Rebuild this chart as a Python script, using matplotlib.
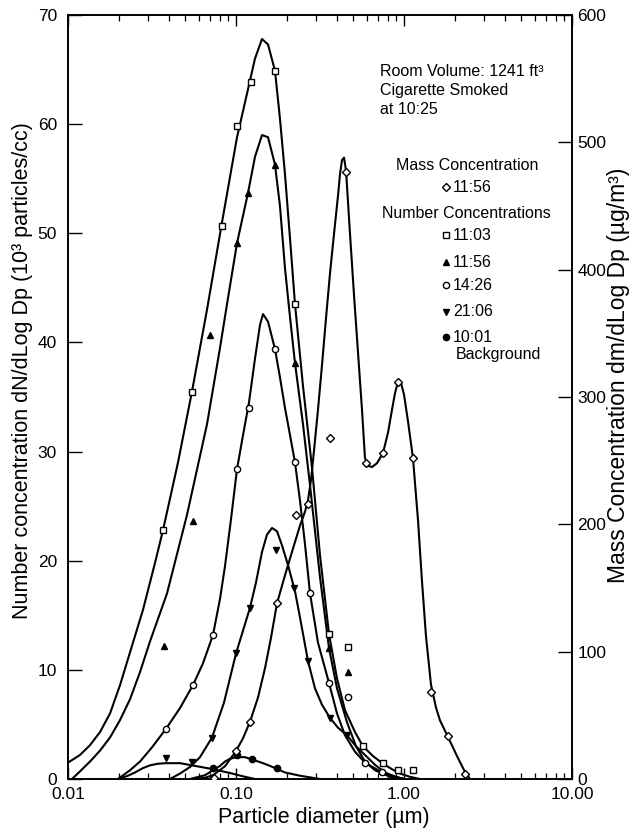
import matplotlib
matplotlib.use("Agg")
import matplotlib.pyplot as plt
from matplotlib.ticker import FixedLocator, LogLocator, NullFormatter

plt.rcParams['font.family'] = ['Liberation Sans', 'DejaVu Sans']

# ---- number concentration curves (diameter in um, 10^3 particles/cc) ----
# 11:03
c1103_x = [0.0100, 0.01179, 0.01352, 0.01551, 0.01778, 0.0204, 0.02339, 0.02795, 0.03295, 0.03677,
           0.04516, 0.0547, 0.0672, 0.08254, 0.1014, 0.1179, 0.1297, 0.1428, 0.1551, 0.1706,
           0.1827, 0.1957, 0.2097, 0.2245, 0.2505, 0.2835, 0.3162, 0.3577, 0.3993, 0.4455,
           0.5109, 0.570, 0.6538, 0.7499, 0.8483, 0.9467, 1.086, 1.245]
c1103_y = [1.5, 2.2, 3.1, 4.3, 6.0, 8.6, 11.6, 15.5, 19.8, 22.8,
           29.0, 35.5, 43.0, 51.0, 58.8, 63.2, 66.0, 67.8, 67.3, 64.9,
           60.5, 55.4, 49.5, 43.5, 36.0, 28.5, 20.5, 13.3, 9.2, 6.3,
           4.3, 3.0, 2.1, 1.4, 0.9, 0.5, 0.2, 0.0]
p1103_x = [0.0368, 0.0547, 0.0825, 0.1014, 0.1228, 0.1706, 0.2245, 0.3577, 0.570, 0.750, 0.921, 1.131]
p1103_y = [22.8, 35.5, 50.7, 59.8, 63.9, 64.9, 43.5, 13.3, 3.0, 1.5, 0.8, 0.8]

# 11:56
c1156_x = [0.01056, 0.01179, 0.01352, 0.01551, 0.01778, 0.0204, 0.02339, 0.02683, 0.03076, 0.03884,
           0.05109, 0.0672, 0.08031, 0.08839, 0.1014, 0.1179, 0.1297, 0.1428, 0.1551, 0.1706,
           0.1827, 0.1957, 0.2097, 0.2245, 0.2505, 0.2758, 0.3162, 0.3577, 0.3993, 0.4579,
           0.5179, 0.5858, 0.672, 0.8254, 1.014]
c1156_y = [0.0, 0.7, 1.6, 2.6, 3.8, 5.4, 7.3, 9.8, 12.6, 17.0,
           24.2, 32.5, 39.5, 43.5, 49.1, 53.7, 57.0, 59.0, 58.8, 56.3,
           52.5, 46.8, 42.3, 38.1, 32.5, 26.9, 18.5, 12.0, 8.3, 5.2,
           3.0, 1.6, 0.8, 0.2, 0.0]
p1156_x = [0.0373, 0.0555, 0.0700, 0.1014, 0.1179, 0.1706, 0.2245, 0.3577]
p1156_y = [12.2, 23.6, 40.7, 49.1, 53.7, 56.3, 38.1, 12.0]

# 14:26
c1426_x = [0.01984, 0.02339, 0.02683, 0.03162, 0.03832, 0.04642, 0.05546, 0.0636, 0.07296, 0.08031,
           0.0860, 0.09338, 0.1014, 0.1101, 0.1195, 0.1297, 0.1389, 0.1448, 0.1551, 0.1706,
           0.1827, 0.1957, 0.2097, 0.2245, 0.2404, 0.2575, 0.2758, 0.3076, 0.3577, 0.3993,
           0.4455, 0.5109, 0.5858, 0.7396, 0.9467]
c1426_y = [0.0, 0.8, 1.6, 2.9, 4.6, 6.5, 8.6, 10.6, 13.2, 16.5,
           19.5, 23.8, 28.4, 31.5, 34.5, 38.5, 41.6, 42.6, 41.9, 39.4,
           36.8, 34.0, 31.5, 29.0, 25.5, 21.5, 17.0, 12.5, 8.8, 6.0,
           4.0, 2.5, 1.5, 0.6, 0.1]
p1426_x = [0.0383, 0.0555, 0.0730, 0.1014, 0.1195, 0.1706, 0.2245, 0.2758, 0.3577, 0.586, 0.740]
p1426_y = [4.6, 8.6, 13.2, 28.4, 34.0, 39.4, 29.0, 17.0, 8.8, 1.5, 0.6]

# 21:06
c2106_x = [0.04047, 0.04642, 0.05324, 0.06105, 0.07197, 0.08483, 0.1000, 0.1101, 0.1212, 0.1315,
           0.1428, 0.1530, 0.1638, 0.1754, 0.1879, 0.2040, 0.2245, 0.2404, 0.2683, 0.2953,
           0.3250, 0.3626, 0.4047, 0.4579, 0.5179, 0.5858, 0.672, 0.7707, 0.8839, 1.014]
c2106_y = [0.0, 0.5, 1.1, 2.0, 3.8, 7.0, 11.5, 13.6, 15.7, 18.0,
           20.8, 22.4, 23.0, 22.7, 21.4, 19.6, 17.2, 14.8, 10.8, 8.3,
           6.8, 5.6, 4.7, 4.0, 3.0, 2.2, 1.3, 0.6, 0.2, 0.0]
p2106_x = [0.0720, 0.1000, 0.1212, 0.1730, 0.2215, 0.2683, 0.3626, 0.4579]
p2106_y = [3.8, 11.5, 15.7, 21.0, 17.5, 10.8, 5.6, 4.0]

# small low bump (21:06 symbols)
cbump_x = [0.01984, 0.02276, 0.02505, 0.02795, 0.03076, 0.03432, 0.03832, 0.04642, 0.0570, 0.07296,
           0.0921, 0.1131, 0.1297]
cbump_y = [0.0, 0.3, 0.6, 1.0, 1.25, 1.4, 1.45, 1.45, 1.2, 0.9,
           0.55, 0.2, 0.0]
pbump_x = [0.0383, 0.0547]
pbump_y = [1.9, 1.6]

# 10:01 background
c1001_x = [0.05324, 0.06538, 0.07296, 0.08031, 0.0860, 0.0921, 0.1000, 0.1131, 0.1297, 0.1448,
           0.1594, 0.1957, 0.2404, 0.3162]
c1001_y = [0.0, 0.35, 0.8, 1.2, 1.6, 1.85, 2.0, 2.0, 1.7, 1.45,
           1.2, 0.6, 0.3, 0.0]
p1001_x = [0.0730, 0.1014, 0.1245, 0.1754]
p1001_y = [1.0, 2.2, 1.8, 1.0]

# ---- mass concentration 11:56 (ug/m3, right axis) ----
mass_x = [0.0570, 0.06538, 0.07296, 0.0860, 0.1000, 0.1101, 0.1212, 0.1352, 0.1488, 0.1616,
          0.1754, 0.1957, 0.2184, 0.2404, 0.2575, 0.2683, 0.2796, 0.2913, 0.3076, 0.3250,
          0.3434, 0.3626, 0.3831, 0.4047, 0.4159, 0.4275, 0.4394, 0.4517, 0.4771, 0.5040,
          0.5324, 0.5623, 0.5858, 0.6105, 0.6449, 0.6907, 0.7499, 0.8031, 0.8483, 0.8839,
          0.9210, 0.9597, 1.000, 1.056, 1.131, 1.212, 1.280, 1.352, 1.448, 1.551,
          1.638, 1.828, 2.068, 2.307, 2.471]
mass_y = [0, 1, 3, 10, 22, 32, 45, 64, 87, 111,
          138, 160, 181, 199, 210, 219, 235, 258, 290, 325,
          362, 397, 428, 458, 475, 486, 488, 478, 428, 380,
          335, 290, 252, 246, 245, 248, 256, 272, 290, 303,
          312, 311, 302, 281, 252, 203, 155, 112, 74, 56,
          46, 33, 18, 5.5, 0]
pmass_x = [0.0742, 0.1000, 0.1212, 0.1754, 0.2276, 0.2683, 0.3626, 0.4517, 0.5939, 0.7499,
           0.9210, 1.131, 1.448, 1.828, 2.307]
pmass_y = [1, 22, 45, 138, 207, 216, 268, 477, 248, 256,
           312, 252, 68, 34, 4]

# stray points near 0.46 um
stray_sq = (0.4642, 12.1)
stray_tri = (0.4642, 9.8)
stray_circ = (0.4642, 7.5)

W, H = 640, 835
fig = plt.figure(figsize=(W / 100, H / 100), dpi=100)
L, R, B, T = 68, 572, 779, 15
ax = fig.add_axes([L / W, 1 - B / H, (R - L) / W, (B - T) / H])
ax.set_xscale('log')
ax.set_xlim(0.01, 10)
ax.set_ylim(0, 70)
ax2 = ax.twinx()
ax2.set_ylim(0, 600)

line_kw = dict(color='black', lw=1.5, solid_joinstyle='round', solid_capstyle='round', zorder=2)
for cx, cy in [(c1103_x, c1103_y), (c1156_x, c1156_y), (c1426_x, c1426_y),
               (c2106_x, c2106_y), (cbump_x, cbump_y), (c1001_x, c1001_y)]:
    ax.plot(cx, cy, **line_kw)
ax2.plot(mass_x, mass_y, **line_kw)

ms = 4.5
ax.plot(p1103_x, p1103_y, ls='none', marker='s', ms=ms, mfc='white', mec='black', mew=1.0, zorder=3)
ax.plot(p1156_x, p1156_y, ls='none', marker='^', ms=ms, mfc='black', mec='black', zorder=3)
ax.plot(p1426_x, p1426_y, ls='none', marker='o', ms=ms, mfc='white', mec='black', mew=1.0, zorder=3)
ax.plot(p2106_x, p2106_y, ls='none', marker='v', ms=ms, mfc='black', mec='black', zorder=3)
ax.plot(pbump_x, pbump_y, ls='none', marker='v', ms=ms, mfc='black', mec='black', zorder=3)
ax.plot(p1001_x, p1001_y, ls='none', marker='o', ms=ms, mfc='black', mec='black', zorder=3)
ax2.plot(pmass_x, pmass_y, ls='none', marker='D', ms=4, mfc='white', mec='black', mew=1.0, zorder=3)
ax.plot(*stray_sq, ls='none', marker='s', ms=ms, mfc='white', mec='black', mew=1.0)
ax.plot(*stray_tri, ls='none', marker='^', ms=ms, mfc='black', mec='black')
ax.plot(*stray_circ, ls='none', marker='o', ms=ms, mfc='white', mec='black', mew=1.0)

# axes, ticks
for a in (ax, ax2):
    for s in a.spines.values():
        s.set_linewidth(1.2)
ax.xaxis.set_major_locator(FixedLocator([0.01, 0.1, 1, 10]))
ax.xaxis.set_minor_locator(LogLocator(base=10, subs=range(2, 10)))
ax.xaxis.set_minor_formatter(NullFormatter())
ax.set_xticklabels(['0.01', '0.10', '1.00', '10.00'])
ax.set_yticks(range(0, 71, 10))
ax2.set_yticks(range(0, 601, 100))
ax.tick_params(axis='x', which='major', direction='in', top=True, length=8, width=1.0,
               labelsize=12.5, pad=6)
ax.tick_params(axis='x', which='minor', direction='in', top=True, length=4, width=0.9)
ax.tick_params(axis='y', direction='in', right=False, length=10, width=1.0, labelsize=12.5, pad=8)
ax2.tick_params(axis='y', direction='in', length=10, width=1.0, labelsize=12.5, pad=4)

fs_lab = 15.5
fig.text(218 / W, 1 - 818 / H, 'Particle diameter (\u00b5m)', fontsize=fs_lab, va='center', ha='left')
fig.text(23 / W, 1 - 371 / H, 'Number concentration dN/dLog Dp (10\u00b3 particles/cc)',
         fontsize=fs_lab, rotation=90, va='center', ha='center')
fig.text(618 / W, 1 - 375 / H, 'Mass Concentration dm/dLog Dp (\u00b5g/m\u00b3)',
         fontsize=16.5, rotation=90, va='center', ha='center')

# annotations
fs_t = 11.5
def ftext(px, py, s, **kw):
    fig.text(px / W, 1 - py / H, s, fontsize=fs_t, va='center', **kw)

ftext(380, 72, 'Room Volume: 1241 ft\u00b3')
ftext(380, 91, 'Cigarette Smoked')
ftext(380, 110, 'at 10:25')
ftext(467, 166, 'Mass Concentration', ha='center')
ftext(466, 213, 'Number Concentrations', ha='center')

legend_rows = [
    (187, 'D', 'white', '11:56'),
    (235, 's', 'white', '11:03'),
    (262, '^', 'black', '11:56'),
    (285, 'o', 'white', '14:26'),
    (312, 'v', 'black', '21:06'),
    (337, 'o', 'black', '10:01'),
]
for py, mk, fc, lab in legend_rows:
    ax.plot([(446 - L) / (R - L)], [(B - py) / (B - T)], transform=ax.transAxes,
            ls='none', marker=mk, ms=4 if mk == 'D' else 4.5, mfc=fc, mec='black', mew=1.0,
            clip_on=False)
    ftext(453, py, lab)
ftext(456, 355, 'Background')

fig.savefig('out.png', dpi=100)
